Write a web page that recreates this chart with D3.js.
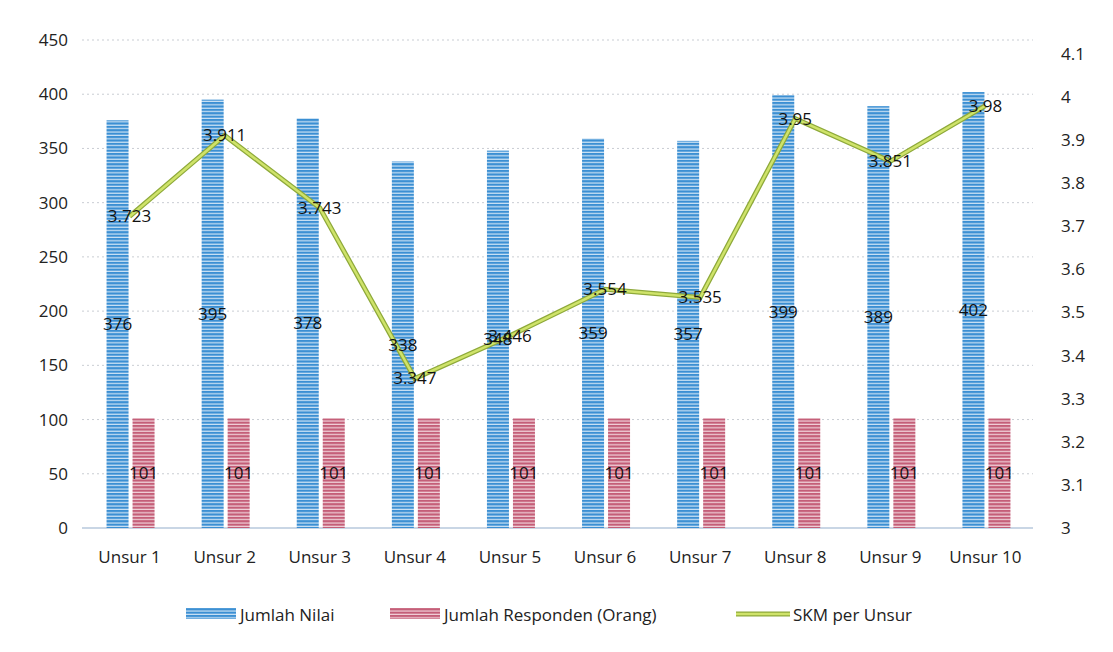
<!DOCTYPE html>
<html>
<head>
<meta charset="utf-8">
<script src="https://cdn.jsdelivr.net/npm/d3@7"></script>
<style>
  body { margin: 0; background: #fff; }
  text { font-family: "Open Sans", "Noto Sans", sans-serif; }
</style>
</head>
<body>
<script>
// data
var categories = ["Unsur 1", "Unsur 2", "Unsur 3", "Unsur 4", "Unsur 5", "Unsur 6", "Unsur 7", "Unsur 8", "Unsur 9", "Unsur 10"];
var jumlahNilai = [376, 395, 378, 338, 348, 359, 357, 399, 389, 402];
var jumlahResponden = [101, 101, 101, 101, 101, 101, 101, 101, 101, 101];
var skm = [3.723, 3.911, 3.743, 3.347, 3.446, 3.554, 3.535, 3.95, 3.851, 3.98];
var leftTicks = [0, 50, 100, 150, 200, 250, 300, 350, 400, 450];
var rightTicks = [3, 3.1, 3.2, 3.3, 3.4, 3.5, 3.6, 3.7, 3.8, 3.9, 4, 4.1];

var W = 1113, H = 652;
var margin = {top: 40, right: 80, bottom: 124, left: 82};

var svg = d3.select('body').append('svg')
    .attr('width', W)
    .attr('height', H);

// striped fills like the scanned bars
var defs = svg.append('defs');
function stripes(id, dark, light) {
    var p = defs.append('pattern')
        .attr('id', id)
        .attr('patternUnits', 'userSpaceOnUse')
        .attr('width', 6).attr('height', 3.4);
    p.append('rect').attr('width', 6).attr('height', 3.4).attr('fill', light);
    p.append('rect').attr('width', 6).attr('height', 2.2).attr('fill', dark);
}
stripes('blueStripe', '#3b8fd3', '#cfe4f5');
stripes('redStripe', '#c45e78', '#f1d3da');

var x = d3.scaleBand().domain(categories)
    .range([margin.left, W - margin.right]);
var yL = d3.scaleLinear().domain([0, 450]).range([H - margin.bottom, margin.top]);
var yR = d3.scaleLinear().domain([3, 4.1]).range([H - margin.bottom, margin.top + 14]);

// grid lines
svg.append('g').selectAll('line')
    .data(leftTicks.slice(1))
    .enter().append('line')
    .attr('x1', margin.left).attr('x2', W - margin.right)
    .attr('y1', function(d) { return yL(d); })
    .attr('y2', function(d) { return yL(d); })
    .attr('stroke', '#c9cdd3')
    .attr('stroke-width', 1)
    .attr('stroke-dasharray', '2,3');

// left axis
var axL = svg.append('g')
    .attr('transform', 'translate(' + (margin.left - 14) + ',0)')
    .call(d3.axisLeft(yL).tickValues(leftTicks).tickSize(0).tickPadding(0));
axL.select('.domain').remove();
axL.selectAll('text').style('font-size', '17px').attr('fill', '#222');

// right axis
var axR = svg.append('g')
    .attr('transform', 'translate(' + (W - margin.right + 28) + ',0)')
    .call(d3.axisRight(yR).tickValues(rightTicks).tickSize(0).tickPadding(0)
        .tickFormat(function(d) { return d3.format('')(+d.toFixed(1)); }));
axR.select('.domain').remove();
axR.selectAll('text').style('font-size', '17px').attr('fill', '#222');

// baseline
svg.append('line')
    .attr('x1', margin.left).attr('x2', W - margin.right)
    .attr('y1', yL(0)).attr('y2', yL(0))
    .attr('stroke', '#b7c9dc').attr('stroke-width', 1.5);

// x labels
svg.append('g').selectAll('text')
    .data(categories)
    .enter().append('text')
    .attr('x', function(d) { return x(d) + x.bandwidth() / 2; })
    .attr('y', H - margin.bottom + 35)
    .attr('text-anchor', 'middle')
    .style('font-size', '17px')
    .attr('fill', '#222')
    .text(function(d) { return d; });

var barW = 22;

// Jumlah Nilai bars
svg.append('g').selectAll('rect')
    .data(jumlahNilai)
    .enter().append('rect')
    .attr('x', function(d, i) { return x(categories[i]) + x.bandwidth() / 2 - barW - 1; })
    .attr('y', function(d) { return yL(d); })
    .attr('width', barW)
    .attr('height', function(d) { return yL(0) - yL(d); })
    .attr('fill', 'url(#blueStripe)');

// Jumlah Responden bars
svg.append('g').selectAll('rect')
    .data(jumlahResponden)
    .enter().append('rect')
    .attr('x', function(d, i) { return x(categories[i]) + x.bandwidth() / 2 + 3; })
    .attr('y', function(d) { return yL(d); })
    .attr('width', barW)
    .attr('height', function(d) { return yL(0) - yL(d); })
    .attr('fill', 'url(#redStripe)');

// SKM line
var line = d3.line()
    .x(function(d, i) { return x(categories[i]) + x.bandwidth() / 2; })
    .y(function(d) { return yR(d); });
svg.append('path').datum(skm)
    .attr('d', line).attr('fill', 'none')
    .attr('stroke', '#8ea93a').attr('stroke-width', 5);
svg.append('path').datum(skm)
    .attr('d', line).attr('fill', 'none')
    .attr('stroke', '#cfe36a').attr('stroke-width', 2.5);

// data labels
var lbl = svg.append('g').style('font-size', '17px').attr('fill', '#111').attr('text-anchor', 'middle');
lbl.selectAll('.ln').data(jumlahNilai).enter().append('text')
    .attr('x', function(d, i) { return x(categories[i]) + x.bandwidth() / 2 - barW / 2 - 1; })
    .attr('y', function(d) { return (yL(d) + yL(0)) / 2 + 6; })
    .text(function(d) { return d; });
lbl.selectAll('.lr').data(jumlahResponden).enter().append('text')
    .attr('x', function(d, i) { return x(categories[i]) + x.bandwidth() / 2 + 3 + barW / 2; })
    .attr('y', function(d) { return (yL(d) + yL(0)) / 2 + 6; })
    .text(function(d) { return d; });
lbl.selectAll('.ls').data(skm).enter().append('text')
    .attr('x', function(d, i) { return x(categories[i]) + x.bandwidth() / 2; })
    .attr('y', function(d) { return yR(d) + 6; })
    .text(function(d) { return d; });

// legend
var lg = svg.append('g').attr('transform', 'translate(0,' + (H - 37) + ')');
lg.append('rect').attr('x', 186).attr('y', -7).attr('width', 50).attr('height', 11).attr('fill', 'url(#blueStripe)');
lg.append('text').attr('x', 240).attr('y', 6).style('font-size', '17px').attr('fill', '#222').text('Jumlah Nilai');
lg.append('rect').attr('x', 390).attr('y', -7).attr('width', 50).attr('height', 11).attr('fill', 'url(#redStripe)');
lg.append('text').attr('x', 444).attr('y', 6).style('font-size', '17px').attr('fill', '#222').text('Jumlah Responden (Orang)');
lg.append('line').attr('x1', 736).attr('x2', 790).attr('y1', -1).attr('y2', -1).attr('stroke', '#8ea93a').attr('stroke-width', 5);
lg.append('line').attr('x1', 736).attr('x2', 790).attr('y1', -1).attr('y2', -1).attr('stroke', '#cfe36a').attr('stroke-width', 2.5);
lg.append('text').attr('x', 793).attr('y', 6).style('font-size', '17px').attr('fill', '#222').text('SKM per Unsur');
</script>
</body>
</html>
